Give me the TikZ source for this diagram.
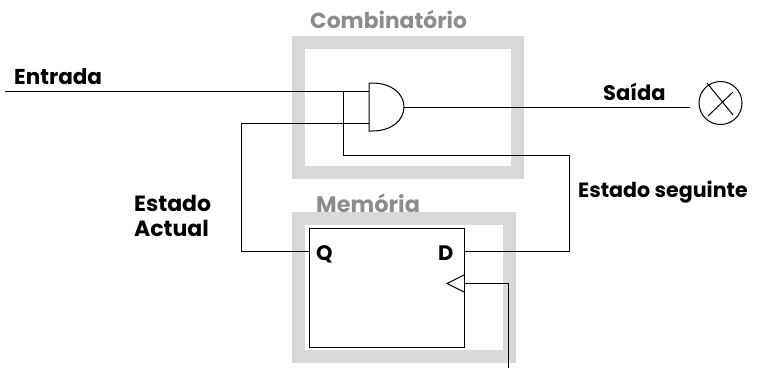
\documentclass[tikz,border=0pt]{standalone}
\usepackage{fontspec}
\setmainfont{Poppins}
\definecolor{framegray}{gray}{0.85}
\definecolor{labelgray}{gray}{0.55}
\tikzset{
  x=1pt,y=-1pt,
  wire/.style={draw=black,line width=1pt,line join=miter},
  lbl/.style={font=\fontsize{21}{25}\selectfont\bfseries,inner sep=0pt,text=black,anchor=base west},
  glbl/.style={lbl,text=labelgray},
}
\begin{document}
\begin{tikzpicture}
\useasboundingbox (0,0) rectangle (760,368);
% frames
\draw[draw=framegray,line width=13pt] (298.5,42) rectangle (517.5,172.5);
\draw[draw=framegray,line width=13pt] (298.5,218) rectangle (509.5,356.5);
\node[glbl,font=\fontsize{21.8}{25}\selectfont\bfseries] (combi) at (310,28) {Combinatório};
\node[glbl,font=\fontsize{22.4}{25}\selectfont\bfseries] (memo) at (316,212) {Memória};
% flip-flop
\node[wire,fill=white,minimum width=155pt,minimum height=119pt,inner sep=0pt,outer sep=0pt] (ff) at (386.5,287.5) {};
\coordinate (q) at (309,251);
\coordinate (d) at (464,251);
\coordinate (clkT) at (464,275);
\coordinate (clkB) at (464,292);
\coordinate (clkTip) at (447,283.5);
\coordinate (clk) at (464,283.5);
\coordinate (clkIn) at (508,368);
\node[lbl] (ql) at (316,260) {Q};
\node[lbl] (dl) at (438,260) {D};
\draw[wire] (clkT) -- (clkTip) -- (clkB);
\draw[wire] (clk) -| (clkIn);
% and gate
\coordinate (a1) at (369,91);
\coordinate (a2) at (369,123);
\coordinate (aout) at (404,107);
\draw[wire,fill=white] (369,83) -- (369,131) -- (372,131) .. controls (392,131) and (404,120) .. (aout) .. controls (404,94) and (392,83) .. (372,83) -- cycle;
% lamp
\node[wire,circle,minimum size=43pt,inner sep=0pt,outer sep=0pt] (lamp) at (720.5,103) {};
\draw[wire] (707,83) -- (733,115);
\draw[wire] (708,116) -- (733,92);
% wires
\coordinate (in) at (5,91);
\coordinate (out) at (690,107);
\draw[wire] (in) -- (a1);
\draw[wire] (aout) -- (out);
\draw[wire] (a2) -- (241,123) |- (q);
\draw[wire] (d) -- (569,251) |- (343,155) -- (343,91);
% labels
\node[lbl,font=\fontsize{21.5}{25}\selectfont\bfseries] (ent) at (14,84) {Entrada};
\node[lbl] (sai) at (603,100) {Saída};
\node[lbl,font=\fontsize{20.6}{25}\selectfont\bfseries] (seg) at (578,197) {Estado seguinte};
\node[lbl,font=\fontsize{22}{25}\selectfont\bfseries] (est) at (134,211) {Estado};
\node[lbl,font=\fontsize{22}{25}\selectfont\bfseries] (act) at (134,236) {Actual};
\end{tikzpicture}
\end{document}
